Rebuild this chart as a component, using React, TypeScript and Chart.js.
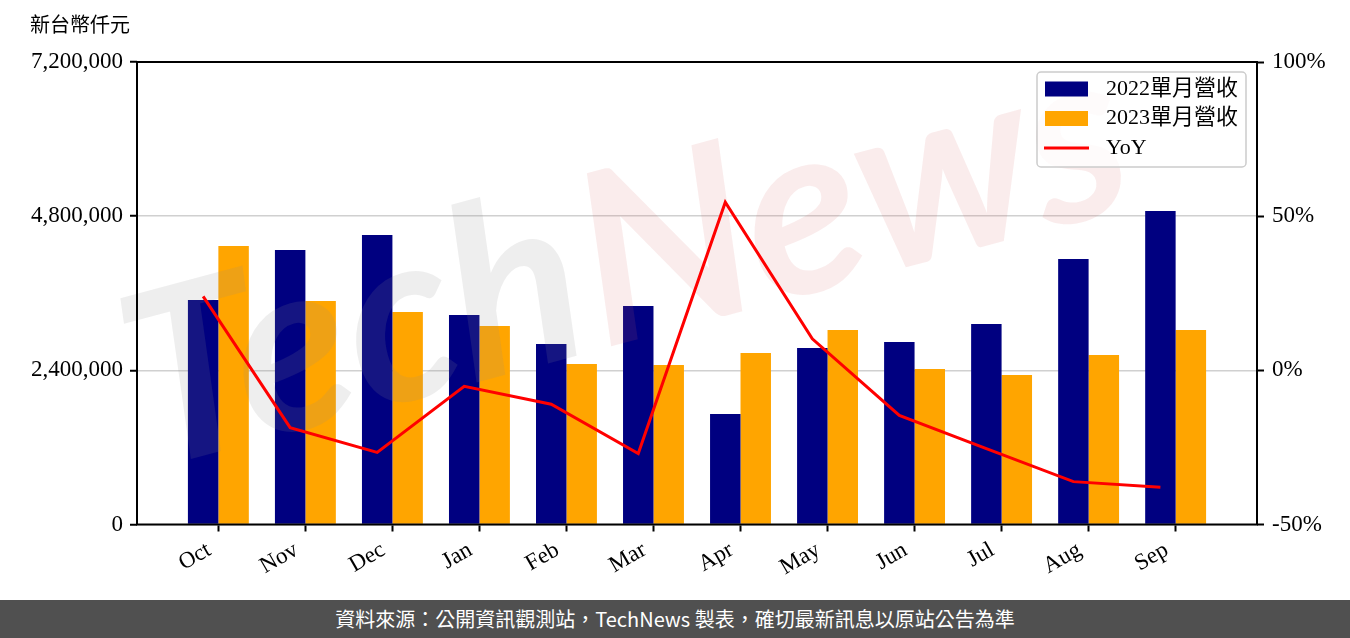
import React, { useEffect, useRef } from 'react';
import { Chart, registerables } from 'chart.js';

Chart.register(...registerables);

const months = ['Oct', 'Nov', 'Dec', 'Jan', 'Feb', 'Mar', 'Apr', 'May', 'Jun', 'Jul', 'Aug', 'Sep'];
const revenue2022 = [3495000, 4273000, 4507000, 3261000, 2810000, 3401000, 1720000, 2748000, 2841000, 3121000, 4133000, 4880000];
const revenue2023 = [4335000, 3479000, 3308000, 3090000, 2498000, 2483000, 2670000, 3028000, 2421000, 2327000, 2639000, 3028000];
const yoyPercent = [24.0, -18.6, -26.6, -5.2, -11.0, -27.0, 54.5, 10.2, -14.6, -25.4, -36.1, -37.9];
const seriesLabels = ['2022單月營收', '2023單月營收', 'YoY'];
const leftTicks = [0, 2400000, 4800000, 7200000];
const rightTicks = [-50, 0, 50, 100];
const unitLabel = '新台幣仟元';
const sourceNote = '資料來源：公開資訊觀測站，TechNews 製表，確切最新訊息以原站公告為準';
const watermarkParts = ['Tech', 'News'];

const SERIF = '"Liberation Serif", "Noto Sans CJK TC", serif';
const BAR_WIDTH = 0.35;

export default function App() {
  const ref = useRef<HTMLCanvasElement>(null);

  useEffect(() => {
    const canvas = ref.current!;
    const navy = '#000080';
    const orange = '#FFA500';
    const red = '#FF0000';

    const watermark = {
      id: 'watermark',
      beforeDatasetDraw(chart: any, args: any) {
        if (args.index !== 2) return;
        const ctx = chart.ctx;
        ctx.save();
        ctx.translate(150, 470);
        ctx.rotate((-15 * Math.PI) / 180);
        ctx.font = 'italic bold 240px Lato, sans-serif';
        ctx.textBaseline = 'alphabetic';
        ctx.textAlign = 'left';
        ctx.fillStyle = 'rgba(140,140,140,0.15)';
        ctx.fillText(watermarkParts[0], 0, 0);
        const w = ctx.measureText(watermarkParts[0]).width;
        ctx.fillStyle = 'rgba(215,100,100,0.12)';
        ctx.fillText(watermarkParts[1], w + 5, 0);
        ctx.restore();
      },
    };

    const frame = {
      id: 'frame',
      afterDatasetsDraw(chart: any) {
        const { ctx, chartArea: a } = chart;
        ctx.save();
        ctx.strokeStyle = '#000';
        ctx.lineWidth = 2;
        ctx.strokeRect(a.left, a.top, a.right - a.left, a.bottom - a.top);

        const bx = a.right - 220;
        const by = a.top + 10;
        const bw = 209;
        const bh = 95;
        ctx.beginPath();
        ctx.roundRect(bx, by, bw, bh, 4);
        ctx.fillStyle = 'rgba(255,255,255,0.8)';
        ctx.fill();
        ctx.strokeStyle = '#cccccc';
        ctx.lineWidth = 1.5;
        ctx.stroke();

        chart.data.datasets.forEach((ds: any, i: number) => {
          const cy = by + 17 + i * 29.5;
          if (ds.type === 'line') {
            ctx.beginPath();
            ctx.strokeStyle = ds.borderColor;
            ctx.lineWidth = 3;
            ctx.moveTo(bx + 7, cy);
            ctx.lineTo(bx + 52, cy);
            ctx.stroke();
          } else {
            ctx.fillStyle = ds.backgroundColor;
            ctx.fillRect(bx + 8, cy - 7.5, 43, 15);
          }
          ctx.fillStyle = '#000';
          ctx.font = '22px ' + SERIF;
          ctx.textBaseline = 'middle';
          ctx.textAlign = 'left';
          ctx.fillText(ds.label, bx + 69, cy);
        });

        ctx.font = '20px ' + SERIF;
        ctx.fillStyle = '#000';
        ctx.textBaseline = 'middle';
        ctx.textAlign = 'left';
        ctx.fillText(unitLabel, 30, 27);
        ctx.restore();
      },
    };

    const tickFont = { family: SERIF, size: 23 };

    const chart = new Chart(canvas, {
      type: 'bar',
      data: {
        datasets: [
          {
            type: 'bar',
            label: seriesLabels[0],
            data: revenue2022.map((v, i) => ({ x: i, y: v })),
            backgroundColor: navy,
            xAxisID: 'x',
            yAxisID: 'y',
            order: 1,
            categoryPercentage: BAR_WIDTH * 2,
            barPercentage: 1.0,
          },
          {
            type: 'bar',
            label: seriesLabels[1],
            data: revenue2023.map((v, i) => ({ x: i, y: v })),
            backgroundColor: orange,
            xAxisID: 'x',
            yAxisID: 'y',
            order: 1,
            categoryPercentage: BAR_WIDTH * 2,
            barPercentage: 1.0,
          },
          {
            type: 'line',
            label: seriesLabels[2],
            data: yoyPercent.map((v, i) => ({ x: i - BAR_WIDTH / 2, y: v })),
            borderColor: red,
            backgroundColor: red,
            borderWidth: 3,
            pointRadius: 0,
            tension: 0,
            xAxisID: 'x',
            yAxisID: 'y1',
            order: 0,
          },
        ],
      } as any,
      options: {
        responsive: false,
        animation: false,
        layout: { padding: { top: 62, left: 0, right: 0, bottom: 0 } },
        plugins: { legend: { display: false }, tooltip: { enabled: false } },
        scales: {
          x: {
            type: 'linear',
            min: -0.935,
            max: 11.935,
            offset: false,
            afterBuildTicks: (s: any) => {
              s.ticks = months.map((_, i) => ({ value: i }));
            },
            afterFit: (s: any) => {
              s.height = 75.5;
            },
            grid: {
              offset: false,
              drawOnChartArea: false,
              drawTicks: true,
              tickLength: 7,
              tickWidth: 2,
              tickColor: '#000',
            },
            border: { display: false },
            ticks: {
              autoSkip: false,
              minRotation: 30,
              maxRotation: 30,
              padding: 5,
              labelOffset: -9,
              font: tickFont,
              color: '#000',
              callback: (v: any) => months[Math.round(Number(v))] ?? '',
            },
          },
          y: {
            position: 'left',
            min: 0,
            max: 7200000,
            afterBuildTicks: (s: any) => {
              s.ticks = leftTicks.map((v) => ({ value: v }));
            },
            afterFit: (s: any) => {
              s.width = 137;
            },
            grid: {
              color: '#d0d0d0',
              lineWidth: 1.5,
              tickColor: '#000',
              tickLength: 7,
              tickWidth: 2,
            },
            border: { display: false },
            ticks: {
              padding: 7,
              font: tickFont,
              color: '#000',
              callback: (v: any) => Number(v).toLocaleString('en-US'),
            },
          },
          y1: {
            position: 'right',
            min: -50,
            max: 100,
            afterBuildTicks: (s: any) => {
              s.ticks = rightTicks.map((v) => ({ value: v }));
            },
            afterFit: (s: any) => {
              s.width = 93;
            },
            grid: {
              drawOnChartArea: false,
              tickColor: '#000',
              tickLength: 7,
              tickWidth: 2,
            },
            border: { display: false },
            ticks: {
              padding: 8,
              font: tickFont,
              color: '#000',
              callback: (v: any) => `${v}%`,
            },
          },
        },
      } as any,
      plugins: [watermark, frame],
    });

    return () => chart.destroy();
  }, []);

  return (
    <div style={{ position: 'absolute', left: 0, top: 0, width: 1350, height: 638, background: '#fff', overflow: 'hidden' }}>
      <canvas ref={ref} width={1350} height={600} style={{ display: 'block', width: 1350, height: 600 }} />
      <div
        style={{
          height: 38,
          background: '#505050',
          color: '#fff',
          fontFamily: '"Noto Sans CJK TC", "Noto Sans", sans-serif',
          fontSize: 20,
          lineHeight: '38px',
          textAlign: 'center',
          whiteSpace: 'nowrap',
        }}
      >
        {sourceNote}
      </div>
    </div>
  );
}
